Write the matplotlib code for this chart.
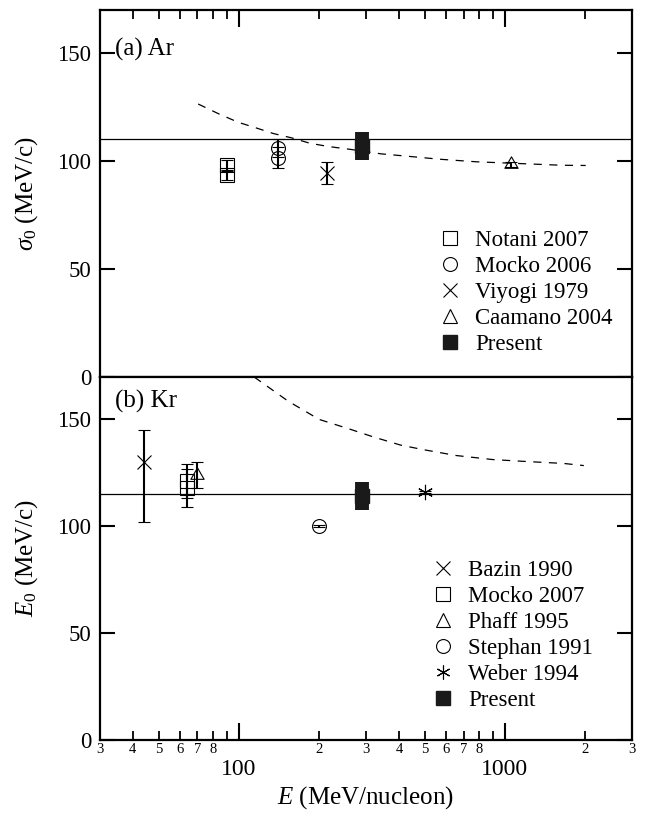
import matplotlib
matplotlib.use("Agg")
import matplotlib.pyplot as plt
from matplotlib.lines import Line2D
from matplotlib.path import Path
from matplotlib.ticker import FixedLocator, FixedFormatter, NullFormatter
import numpy as np

plt.rcParams['font.family'] = ['Liberation Serif', 'DejaVu Serif']
plt.rcParams['mathtext.fontset'] = 'custom'
plt.rcParams['mathtext.rm'] = 'Liberation Serif'
plt.rcParams['mathtext.it'] = 'Liberation Serif:italic'

# ---------------- (a) Ar : sigma_0 ----------------
ar_ref = 110.0
ar_curve_E = [70.4, 84.9, 99.7, 117, 135, 158, 185, 217, 265, 342, 412, 568, 782, 1186, 1633, 2010]
ar_curve_s = [126.4, 121.6, 117.9, 115.2, 112.7, 110.7, 108.2, 106.7, 105.3, 103.3, 102.4, 100.8, 99.6, 98.7, 98.0, 97.9]

notani_E = [90, 90]
notani_s = [98.0, 93.5]
notani_err = [2.5, 2.5]

mocko06_E = [140, 140]
mocko06_s = [106.0, 101.5]
mocko06_err = [4.0, 5.0]

viyogi_E = [215]
viyogi_s = [94.5]
viyogi_err = [5.0]

caamano_E = [1050]
caamano_s = [98.4]
caamano_err = [1.0]

ar_present_E = [290]
ar_present_s = [107.0]
ar_present_err = [6.5]

# ---------------- (b) Kr : E_0 ----------------
kr_ref = 115.0
kr_curve_E = [114.4, 153.5, 200.5, 260.7, 318.6, 405, 491, 656, 902, 1204, 1660, 1978]
kr_curve_v = [169.8, 158.5, 150.0, 145.5, 141.9, 138.0, 135.9, 133.1, 131.2, 130.3, 129.4, 128.4]

bazin_E = [44]
bazin_v = [130.0]
bazin_err_lo = [28.0]
bazin_err_hi = [15.0]

mocko07_E = [64, 64]
mocko07_v = [121.0, 118.0]
mocko07_err = [8.0, 9.0]

phaff_E = [70]
phaff_v = [124.0]
phaff_err = [6.0]

stephan_E = [200]
stephan_v = [100.0]
stephan_err = [0.4]

weber_E = [500]
weber_v = [116.0]
weber_err = [0.4]

kr_present_E = [290]
kr_present_v = [114.0]
kr_present_err = [6.5]

ar_labels = ['Notani 2007', 'Mocko 2006', 'Viyogi 1979', 'Caamano 2004', 'Present']
kr_labels = ['Bazin 1990', 'Mocko 2007', 'Phaff 1995', 'Stephan 1991', 'Weber 1994', 'Present']

minor_vals = [30, 40, 50, 60, 70, 80, 90, 200, 300, 400, 500, 600, 700, 800, 900, 2000, 3000]
minor_text = ['3', '4', '5', '6', '7', '8', '', '2', '3', '4', '5', '6', '7', '8', '', '2', '3']
major_vals = [100, 1000]
major_text = ['100', '1000']

# triangle centred on its centroid
tri = Path([(0, 1.0), (-0.866, -0.5), (0.866, -0.5), (0, 1.0)],
           [Path.MOVETO, Path.LINETO, Path.LINETO, Path.CLOSEPOLY])
asterisk = (6, 2, 0)

MS = 10
MEW = 0.8
EB = dict(ls='none', ecolor='black', elinewidth=1.5, capsize=4.5, capthick=1.8)

fig = plt.figure(figsize=(6.5, 8.21), dpi=100)
ax1 = fig.add_axes([0.1531, 0.5412, 0.8192, 0.4467])
ax2 = fig.add_axes([0.1531, 0.0987, 0.8192, 0.4425])


def open_pts(ax, x, y, err, marker, ms=MS):
    ax.errorbar(x, y, yerr=err, marker=marker, ms=ms, mfc='none', mec='black',
                mew=MEW, zorder=3, **EB)


def present(ax, x, y, err):
    ax.errorbar(x, y, yerr=err, fmt='none', ecolor='#1a1a1a', elinewidth=10,
                capsize=0, zorder=4)
    ax.plot(x, y, 's', ms=9.5, color='#1a1a1a', zorder=5)


# panel (a)
ax1.axhline(ar_ref, color='black', lw=0.9, zorder=1)
ax1.plot(ar_curve_E, ar_curve_s, color='black', lw=0.9, dashes=(6.5, 6), zorder=1)
open_pts(ax1, notani_E, notani_s, notani_err, 's')
open_pts(ax1, mocko06_E, mocko06_s, mocko06_err, 'o')
ax1.errorbar(viyogi_E, viyogi_s, yerr=viyogi_err, marker='x', ms=MS, color='black',
             mew=MEW, zorder=3, **EB)
open_pts(ax1, caamano_E, caamano_s, caamano_err, tri, ms=11)
present(ax1, ar_present_E, ar_present_s, ar_present_err)

# panel (b)
ax2.axhline(kr_ref, color='black', lw=0.9, zorder=1)
ax2.plot(kr_curve_E, kr_curve_v, color='black', lw=0.9, dashes=(6.5, 6), zorder=1)
ax2.errorbar(bazin_E, bazin_v, yerr=[bazin_err_lo, bazin_err_hi], marker='x', ms=MS,
             color='black', mew=MEW, zorder=3, **EB)
open_pts(ax2, mocko07_E, mocko07_v, mocko07_err, 's')
open_pts(ax2, phaff_E, phaff_v, phaff_err, tri, ms=11)
open_pts(ax2, stephan_E, stephan_v, stephan_err, 'o')
ax2.errorbar(weber_E, weber_v, yerr=weber_err, marker=asterisk, ms=MS + 1, color='black',
             mew=MEW, zorder=3, **EB)
present(ax2, kr_present_E, kr_present_v, kr_present_err)

for ax in (ax1, ax2):
    ax.set_xscale('log')
    ax.set_xlim(30, 3000)
    ax.set_ylim(0, 170)
    ax.set_yticks([0, 50, 100, 150])
    for s in ax.spines.values():
        s.set_linewidth(1.6)
    ax.xaxis.set_major_locator(FixedLocator(major_vals))
    ax.xaxis.set_minor_locator(FixedLocator(minor_vals))
    ax.tick_params(axis='y', which='major', direction='in', length=11, width=1.5,
                   left=True, right=True, labelsize=16.5, pad=6)
    ax.tick_params(axis='x', which='major', direction='in', length=12.5, width=1.5)
    ax.tick_params(axis='x', which='minor', direction='in', length=6.5, width=1.3)

ax1.tick_params(axis='x', which='both', top=True, bottom=False,
                labelbottom=False, labeltop=False)
ax1.xaxis.set_major_formatter(NullFormatter())
ax1.xaxis.set_minor_formatter(NullFormatter())

ax2.tick_params(axis='x', which='both', top=False, bottom=True)
ax2.xaxis.set_major_formatter(FixedFormatter(major_text))
ax2.xaxis.set_minor_formatter(FixedFormatter(minor_text))
ax2.tick_params(axis='x', which='major', labelsize=17, pad=14)
ax2.tick_params(axis='x', which='minor', labelsize=10.5, pad=2)

ax1.set_ylabel(r'$\sigma_0$ (MeV/c)', fontsize=18)
ax2.set_ylabel(r'$E_0$ (MeV/c)', fontsize=18)
ax1.yaxis.set_label_coords(-0.112, 0.5)
ax2.yaxis.set_label_coords(-0.112, 0.5)
ax2.set_xlabel(r'$E$ (MeV/nucleon)', fontsize=18)
ax2.xaxis.set_label_coords(0.5, -0.122)

ax1.text(0.029, 0.891, '(a) Ar', transform=ax1.transAxes, fontsize=18, va='center', ha='left')
ax2.text(0.029, 0.931, '(b) Kr', transform=ax2.transAxes, fontsize=18, va='center', ha='left')


def handle(marker, filled=False, ms=MS):
    if filled:
        return Line2D([], [], ls='none', marker=marker, ms=ms, color='#1a1a1a')
    if marker in ('x', asterisk):
        return Line2D([], [], ls='none', marker=marker, ms=ms, color='black', mew=MEW)
    return Line2D([], [], ls='none', marker=marker, ms=ms, mfc='none', mec='black', mew=MEW)


ar_handles = [handle('s'), handle('o'), handle('x'), handle('^'), handle('s', True)]
kr_handles = [handle('x'), handle('s'), handle('^'), handle('o'), handle(asterisk), handle('s', True)]

leg_kw = dict(frameon=False, fontsize=16.5, handlelength=1.0, handletextpad=0.6,
              labelspacing=0.22, borderpad=0, borderaxespad=0, loc='upper left')
ax1.legend(ar_handles, ar_labels, bbox_to_anchor=(0.637, 0.400), **leg_kw)
ax2.legend(kr_handles, kr_labels, bbox_to_anchor=(0.6235, 0.4955), **leg_kw)

fig.savefig('out.png', dpi=100)
